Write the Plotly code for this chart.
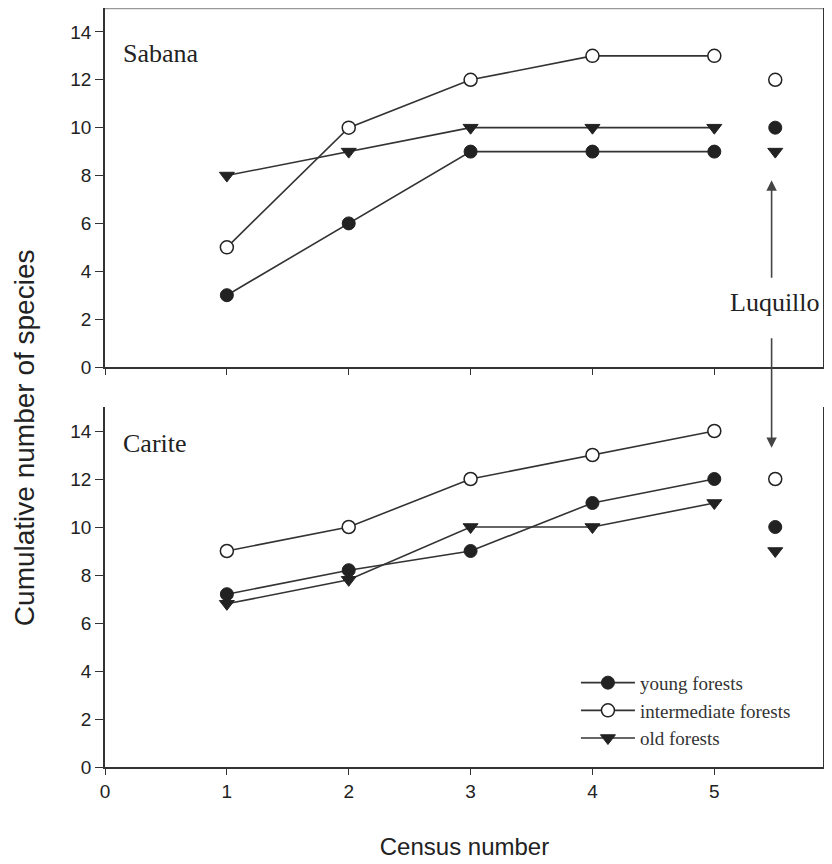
import plotly.graph_objects as go

census = [1, 2, 3, 4, 5]
luq_x = [5.5]

# Sabana
sab_young = [3, 6, 9, 9, 9]
sab_inter = [5, 10, 12, 13, 13]
sab_old = [8, 9, 10, 10, 10]
sab_luq_young = [10]
sab_luq_inter = [12]
sab_luq_old = [9]

# Carite
car_young = [7.2, 8.2, 9, 11, 12]
car_inter = [9, 10, 12, 13, 14]
car_old = [6.8, 7.8, 10, 10, 11]
car_luq_young = [10]
car_luq_inter = [12]
car_luq_old = [9]

y_ticks = [0, 2, 4, 6, 8, 10, 12, 14]
x_ticks = [0, 1, 2, 3, 4, 5]

LINE = "#333333"
MK = "#222222"
SER = "Liberation Serif, Times New Roman, serif"
SANS = "Liberation Sans, Arial, sans-serif"

styles = {
    "young": dict(symbol="circle", color=MK, line=dict(color=MK, width=1)),
    "inter": dict(symbol="circle", color="white", line=dict(color=MK, width=1.5)),
    "old": dict(symbol="triangle-down", color=MK, line=dict(color=MK, width=1)),
}
names = {"young": "young forests", "inter": "intermediate forests", "old": "old forests"}

fig = go.Figure()

def add_series(xa, ya, key, vals, luq, legend):
    fig.add_trace(go.Scatter(
        x=census, y=vals, mode="lines+markers", name=names[key],
        xaxis=xa, yaxis=ya, showlegend=legend,
        line=dict(color=LINE, width=1.6),
        marker=dict(size=13, **styles[key]),
    ))
    fig.add_trace(go.Scatter(
        x=luq_x, y=luq, mode="markers", showlegend=False,
        xaxis=xa, yaxis=ya,
        marker=dict(size=13, **styles[key]),
    ))

add_series("x", "y", "young", sab_young, sab_luq_young, False)
add_series("x", "y", "inter", sab_inter, sab_luq_inter, False)
add_series("x", "y", "old", sab_old, sab_luq_old, False)
add_series("x2", "y2", "young", car_young, car_luq_young, True)
add_series("x2", "y2", "inter", car_inter, car_luq_inter, True)
add_series("x2", "y2", "old", car_old, car_luq_old, True)

axis_common = dict(
    range=[0, 5.9], showgrid=False, zeroline=False, showline=True,
    linecolor=LINE, linewidth=1.6, ticks="outside", ticklen=6,
    tickcolor=LINE, tickwidth=1.2, tickvals=x_ticks,
)
yaxis_common = dict(
    range=[0, 15], showgrid=False, zeroline=False, showline=True,
    linecolor=LINE, linewidth=1.6, ticks="outside", ticklen=8,
    tickcolor=LINE, tickwidth=1.2, tickvals=y_ticks,
    tickfont=dict(family=SANS, size=19, color="#222"),
)

PH = 759  # plot-area height in px
fig.update_layout(
    width=824, height=856,
    margin=dict(l=97, r=8, t=0, b=97),
    plot_bgcolor="white", paper_bgcolor="white",
    xaxis=dict(**axis_common, anchor="y", showticklabels=False),
    yaxis=dict(**yaxis_common, domain=[400 / PH, 1], anchor="x"),
    xaxis2=dict(**axis_common, anchor="y2",
                tickfont=dict(family=SANS, size=19, color="#222"),
                title=dict(text="Census number", font=dict(family=SANS, size=24, color="#222"), standoff=38)),
    yaxis2=dict(**yaxis_common, domain=[0, 360 / PH], anchor="x2"),
    legend=dict(x=0.655, y=0.136, xanchor="left", yanchor="top",
                bgcolor="rgba(0,0,0,0)", font=dict(family=SER, size=19, color="#333"),
                tracegroupgap=0, itemwidth=54),
    showlegend=True,
)

# Borders
fig.add_shape(type="line", xref="x domain", yref="y domain", x0=0, x1=1, y0=0.998, y1=0.998,
              line=dict(color="#999999", width=1.2))
fig.add_shape(type="line", xref="x domain", yref="y domain", x0=1, x1=1, y0=0, y1=1,
              line=dict(color=LINE, width=2))
fig.add_shape(type="line", xref="x2 domain", yref="y2 domain", x0=1, x1=1, y0=0, y1=1,
              line=dict(color=LINE, width=2))

# Y title (shared)
fig.add_annotation(text="Cumulative number of species", xref="paper", yref="paper",
                   x=-0.111, y=0.4335, textangle=-90, showarrow=False,
                   font=dict(family=SANS, size=28, color="#222"), xanchor="center", yanchor="middle")

# Panel labels
fig.add_annotation(text="Sabana", xref="x", yref="y", x=0.13, y=13.1, showarrow=False,
                   xanchor="left", yanchor="middle", font=dict(family=SER, size=26, color="#222"))
fig.add_annotation(text="Carite", xref="x2", yref="y2", x=0.13, y=13.5, showarrow=False,
                   xanchor="left", yanchor="middle", font=dict(family=SER, size=26, color="#222"))
fig.add_annotation(text="Luquillo", xref="x", yref="y", x=5.5, y=2.7, showarrow=False,
                   xanchor="center", yanchor="middle", font=dict(family=SER, size=26, color="#222"))

# Arrows
fig.add_annotation(xref="x", yref="y", x=5.47, y=7.8, axref="x", ayref="y", ax=5.47, ay=3.67,
                   showarrow=True, arrowhead=2, arrowsize=1.3, arrowwidth=1.6, arrowcolor="#444", text="")
fig.add_annotation(xref="x2", yref="y2", x=5.47, y=13.3, ax=0, ay=-111,
                   showarrow=True, arrowhead=2, arrowsize=1.3, arrowwidth=1.6, arrowcolor="#444", text="")

fig.write_html("out.html")
